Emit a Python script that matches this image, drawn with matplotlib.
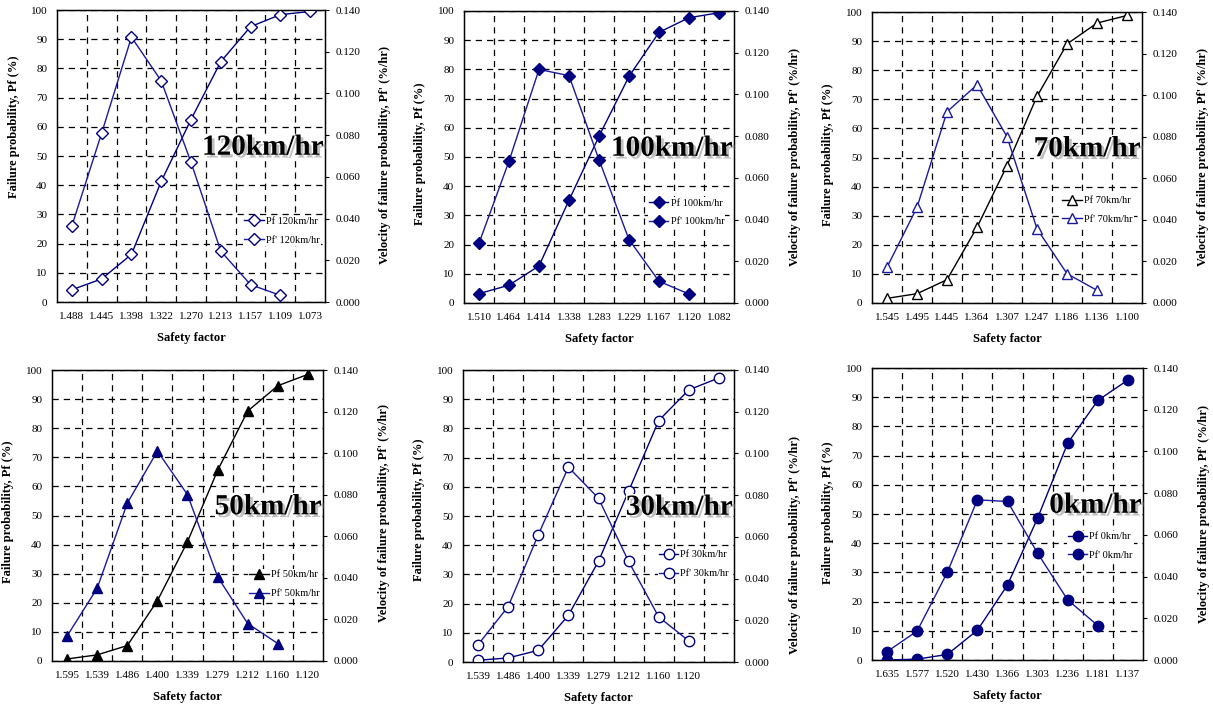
import numpy as np
import matplotlib
matplotlib.use("Agg")
import matplotlib.pyplot as plt
import matplotlib.patheffects as pe
from matplotlib.ticker import FormatStrFormatter

plt.rcParams['font.family'] = ['Liberation Serif', 'DejaVu Serif']

# Safety factor categories, failure probability Pf (%) and its velocity Pf' (%/hr)
sf_120 = ["1.488", "1.445", "1.398", "1.322", "1.270", "1.213", "1.157", "1.109", "1.073"]
pf_120 = [4.2, 7.9, 16.3, 41.3, 62.5, 82.3, 94.3, 98.4, 99.5]
pfv_120 = [0.0365, 0.081, 0.127, 0.106, 0.067, 0.0244, 0.0083, 0.0032]

sf_100 = ["1.510", "1.464", "1.414", "1.338", "1.283", "1.229", "1.167", "1.120", "1.082"]
pf_100 = [3.2, 6.1, 12.7, 35.2, 57.1, 77.6, 92.7, 97.7, 99.4]
pfv_100 = [0.0287, 0.068, 0.112, 0.109, 0.0687, 0.0304, 0.0104, 0.0043]

sf_70 = ["1.545", "1.495", "1.445", "1.364", "1.307", "1.247", "1.186", "1.136", "1.100"]
pf_70 = [1.6, 3.2, 8.0, 26.0, 47.2, 71.0, 89.0, 96.2, 98.8]
pfv_70 = [0.0172, 0.046, 0.092, 0.105, 0.080, 0.0357, 0.0141, 0.0061]

sf_50 = ["1.595", "1.539", "1.486", "1.400", "1.339", "1.279", "1.212", "1.160", "1.120"]
pf_50 = [0.7, 2.1, 5.3, 20.7, 41.0, 65.5, 85.9, 94.6, 98.5]
pfv_50 = [0.012, 0.035, 0.0759, 0.101, 0.080, 0.0405, 0.018, 0.0084]

sf_30 = ["1.539", "1.486", "1.400", "1.339", "1.279", "1.212", "1.160", "1.120", ""]
pf_30 = [0.6, 1.4, 4.0, 16.0, 34.5, 58.5, 82.7, 93.2, 97.3]
pfv_30 = [0.0083, 0.0266, 0.061, 0.0934, 0.0785, 0.0482, 0.0216, 0.0101]

sf_0 = ["1.635", "1.577", "1.520", "1.430", "1.366", "1.303", "1.236", "1.181", "1.137"]
pf_0 = [0.0, 0.3, 1.9, 10.2, 25.7, 48.6, 74.3, 88.9, 95.9]
pfv_0 = [0.004, 0.0139, 0.042, 0.0768, 0.076, 0.0512, 0.0288, 0.0165]

NAVY = "#000080"
BLUE = "#1a1a9e"

fig = plt.figure(figsize=(12.13, 7.07), dpi=100)
W, H = 1213, 707


def box(x0, y0, x1, y1):
    return [x0 / W, 1 - y1 / H, (x1 - x0) / W, (y1 - y0) / H]


def draw_panel(rect, speed, sf, pf, pfv, marker, filled, pf_color, pfv_color,
               pfv_mcolor, msize, leg_xy, ylab_y, vlab_y):
    ax = fig.add_axes(rect)
    x = np.arange(len(sf))
    ax.set_xlim(-0.5, len(sf) - 0.5)
    ax.set_ylim(0, 100)
    ax.set_yticks(range(0, 101, 10))
    ax.set_xticks(x)
    ax.set_xticklabels(sf)
    ax.set_xticks(x[:-1] + 0.5, minor=True)
    ax.grid(True, which='minor', axis='x', color='black', lw=0.9, ls=(0, (5, 4)))
    ax.grid(True, which='major', axis='y', color='black', lw=0.9, ls=(0, (5, 4)))
    ax.tick_params(axis='x', which='both', length=0, pad=7, labelsize=8)
    ax.tick_params(axis='y', length=0, pad=7, labelsize=8)
    for s in ax.spines.values():
        s.set_linewidth(1.0)

    ax2 = ax.twinx()
    ax2.set_ylim(0, 0.14)
    ax2.set_yticks(np.arange(0, 0.1401, 0.02))
    ax2.yaxis.set_major_formatter(FormatStrFormatter('%.3f'))
    ax2.tick_params(axis='y', length=3, pad=5, labelsize=8)

    fc1 = pf_color if filled else 'white'
    fc2 = pfv_mcolor if filled else 'white'
    h1, = ax.plot(x, pf, color=pf_color, lw=1.0, marker=marker, ms=msize,
                  mfc=fc1, mec=pf_color, mew=1.0, label="Pf " + speed, zorder=3)
    h2, = ax2.plot(x[:len(pfv)], pfv, color=pfv_color, lw=1.0, marker=marker,
                   ms=msize, mfc=fc2, mec=pfv_mcolor, mew=1.0,
                   label="Pf' " + speed, zorder=3)

    # speed caption with a soft drop shadow
    ax2.text(0.995, 0.53, speed, transform=ax2.transAxes, ha='right', va='center',
             fontsize=21, fontweight='bold', zorder=6,
             bbox=dict(facecolor='white', edgecolor='none', pad=0),
             path_effects=[pe.withSimplePatchShadow(offset=(2, -2),
                                                    shadow_rgbFace='gray', alpha=0.5)])

    leg = ax2.legend([h1, h2], [h1.get_label(), h2.get_label()], loc='center left',
                     bbox_to_anchor=leg_xy, fontsize=7.5, handlelength=1.9,
                     handletextpad=0.2, labelspacing=0.9, borderaxespad=0,
                     borderpad=0.1, frameon=True, fancybox=False,
                     facecolor='white', edgecolor='none', framealpha=1)
    leg.set_zorder(5)

    ax.text(-0.162, ylab_y, "Failure probability, Pf (%)", transform=ax.transAxes,
            rotation=90, ha='center', va='center', fontsize=9, fontweight='bold')
    ax2.text(1.225, vlab_y, "Velocity of failure probability, Pf' (%/hr)",
             transform=ax2.transAxes, rotation=90, ha='center', va='center',
             fontsize=9, fontweight='bold')
    ax.text(0.5, -0.123, "Safety factor", transform=ax.transAxes,
            ha='center', va='center', fontsize=9, fontweight='bold')


draw_panel(box(57, 10, 325, 302), "120km/hr", sf_120, pf_120, pfv_120,
           'D', False, NAVY, BLUE, NAVY, 6.5, (0.694, 0.244), 0.60, 0.505)
draw_panel(box(464, 11, 734, 303), "100km/hr", sf_100, pf_100, pfv_100,
           'D', True, NAVY, BLUE, NAVY, 6.5, (0.68, 0.31), 0.51, 0.5)
draw_panel(box(872, 12, 1142, 303), "70km/hr", sf_70, pf_70, pfv_70,
           '^', False, 'black', BLUE, BLUE, 7, (0.70, 0.32), 0.51, 0.5)
draw_panel(box(52, 370, 323, 661), "50km/hr", sf_50, pf_50, pfv_50,
           '^', True, 'black', BLUE, NAVY, 7, (0.724, 0.264), 0.514, 0.507)
draw_panel(box(463, 370, 734, 662), "30km/hr", sf_30, pf_30, pfv_30,
           'o', False, NAVY, BLUE, NAVY, 7.5, (0.718, 0.335), 0.52, 0.40)
draw_panel(box(872, 368, 1143, 660), "0km/hr", sf_0, pf_0, pfv_0,
           'o', True, NAVY, BLUE, NAVY, 7.5, (0.718, 0.39), 0.505, 0.50)

fig.savefig("out.png", dpi=100, facecolor='white')
